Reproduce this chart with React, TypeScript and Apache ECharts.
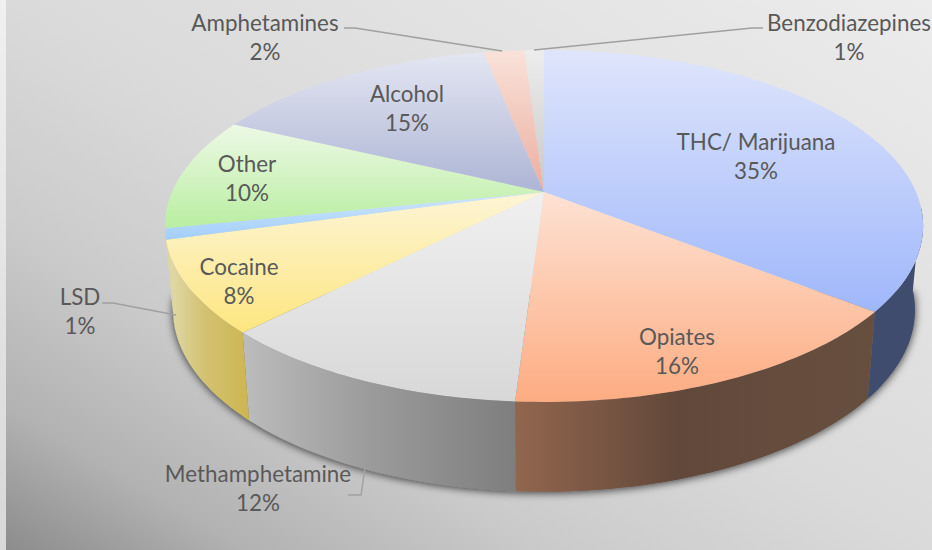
import React, { useEffect, useRef } from "react";
import * as echarts from "echarts";

const categories = ["THC/ Marijuana", "Opiates", "Methamphetamine", "Cocaine", "LSD", "Other", "Alcohol", "Amphetamines", "Benzodiazepines"];
const values = [35.7, 15.3, 11.3, 8.4, 1.0, 10.4, 14.8, 2.1, 1.0];
const percentLabels = ["35%", "16%", "12%", "8%", "1%", "10%", "15%", "2%", "1%"];
const topFrom = ["#dfe5fb", "#fde2d4", "#f0f0f0", "#fdf5d6", "#cfe7fc", "#edf9e6", "#e4e6f2", "#f9e2da", "#ededed"];
const topTo = ["#9fb7fb", "#fdac82", "#d8d8d8", "#fde680", "#a2cefc", "#b9eea0", "#adb5d5", "#ecae9e", "#c8c8c8"];
const wallFrom = ["#3f4c6d", "#92664e", "#bcbcbc", "#e2dcae", "#dcd5a4", "#dcd5a4", "#888", "#999", "#888"];
const wallMid = ["#3f4c6d", "#62483a", "#9c9c9c", "#d3c273", "#dcd5a4", "#dcd5a4", "#777", "#888", "#777"];
const wallTo = ["#3f4c6d", "#674f40", "#7e7e7e", "#cdb650", "#dcd5a4", "#dcd5a4", "#777", "#888", "#777"];

const LABELS: Record<string, { x: number; y: number; line?: number[][] }> = {
  "THC/ Marijuana": { x: 756, y: 156 },
  Opiates: { x: 677, y: 351 },
  Methamphetamine: { x: 258, y: 488, line: [[365, 468], [361, 495], [348, 495]] },
  Cocaine: { x: 239, y: 281 },
  LSD: { x: 80, y: 311, line: [[102, 303], [113, 303], [176, 315]] },
  Other: { x: 247, y: 178 },
  Alcohol: { x: 407, y: 108 },
  Amphetamines: { x: 265, y: 37, line: [[344, 28], [355, 28], [502, 51]] },
  Benzodiazepines: { x: 849, y: 37, line: [[763, 28], [752, 28], [534, 50]] },
};

// Perspective projection of the pie's unit circle on the page
const CX = 544;
const K = -0.193;
const project = (a: number, lower: boolean): number[] => {
  const x = Math.sin(a);
  const y = -Math.cos(a);
  const d = 1 + K * y;
  return lower
    ? [CX + (364 * x) / d, 275 + (175 * y) / d]
    : [CX + (372 * x) / d, 192 + (169.4 * y) / d];
};
const APEX = [CX, 192];
const WALL_START = (95 * Math.PI) / 180;
const WALL_END = (263 * Math.PI) / 180;

const total = values.reduce((s, v) => s + v, 0);
const angles: number[] = [0];
values.forEach((v, i) => angles.push(angles[i] + (v / total) * Math.PI * 2));

const arc = (a0: number, a1: number, lower: boolean): number[][] => {
  const n = Math.max(2, Math.ceil((a1 - a0) / 0.02));
  const pts: number[][] = [];
  for (let i = 0; i <= n; i++) pts.push(project(a0 + ((a1 - a0) * i) / n, lower));
  return pts;
};

export default function App() {
  const ref = useRef<HTMLDivElement>(null);
  useEffect(() => {
    document.body.style.margin = "0";
    const chart = echarts.init(ref.current!, null, { renderer: "svg" });
    const data = values.map((v, i) => [i, v]);
    const graphic: any[] = [
      {
        type: "rect",
        silent: true,
        z: -11,
        shape: { x: 0, y: 0, width: 6, height: 550 },
        style: {
          fill: new echarts.graphic.LinearGradient(0, 0, 0, 1, [
            { offset: 0, color: "#f0f0f0" },
            { offset: 1, color: "#d8d8d8" },
          ]),
        },
      },
      {
        type: "rect",
        silent: true,
        z: -10,
        shape: { x: 6, y: 0, width: 926, height: 550 },
        style: {
          fill: new echarts.graphic.LinearGradient(0, 1, 1, 0, [
            { offset: 0, color: "#8c8c8c" },
            { offset: 0.13, color: "#b2b2b2" },
            { offset: 0.3, color: "#cbcbcb" },
            { offset: 0.5, color: "#dadada" },
            { offset: 0.75, color: "#e3e3e3" },
            { offset: 1, color: "#ececec" },
          ]),
        },
      },
    ];
    categories.forEach((name, i) => {
      const l = LABELS[name];
      if (l.line) {
        graphic.push({
          type: "polyline",
          silent: true,
          z: 90,
          shape: { points: l.line },
          style: { stroke: "#a0a0a0", lineWidth: 1.4, fill: "none" },
        });
      }
      graphic.push({
        type: "text",
        silent: true,
        z: 100,
        style: {
          text: `${name}\n${percentLabels[i]}`,
          x: l.x,
          y: l.y,
          align: "center",
          verticalAlign: "middle",
          lineHeight: 29.5,
          fontFamily: "Lato",
          fontSize: 22.4,
          fill: "#595959",
        },
      });
    });

    chart.setOption({
      animation: false,
      graphic,
      series: [
        {
          type: "custom",
          coordinateSystem: "none",
          silent: true,
          z: 1,
          data: [[0]],
          renderItem: () => ({
            type: "polygon",
            shape: { points: arc(WALL_START, WALL_END, true) },
            style: { fill: "#777", shadowColor: "rgba(0,0,0,0.75)", shadowBlur: 8, shadowOffsetY: 1 },
          }),
        },
        {
          type: "custom",
          coordinateSystem: "none",
          silent: true,
          z: 2,
          data,
          renderItem: (p: any) => {
            const i = p.dataIndex;
            const a0 = Math.max(angles[i], WALL_START);
            const a1 = Math.min(angles[i + 1], WALL_END);
            if (a1 <= a0) return null;
            const up = arc(a0, a1, false);
            const low = arc(a0, a1, true).reverse();
            return {
              type: "polygon",
              shape: { points: up.concat(low) },
              style: {
                fill: new echarts.graphic.LinearGradient(0, 0, 1, 0, [
                  { offset: 0, color: wallFrom[i] },
                  { offset: 0.45, color: wallMid[i] },
                  { offset: 1, color: wallTo[i] },
                ]),
              },
            };
          },
        },
        {
          type: "custom",
          coordinateSystem: "none",
          silent: true,
          z: 3,
          data,
          renderItem: (p: any) => {
            const i = p.dataIndex;
            return {
              type: "polygon",
              shape: { points: [APEX, ...arc(angles[i], angles[i + 1], false)] },
              style: {
                fill: new echarts.graphic.LinearGradient(0, 0, 0, 1, [
                  { offset: 0, color: topFrom[i] },
                  { offset: 1, color: topTo[i] },
                ]),
              },
            };
          },
        },
      ],
    });
    return () => chart.dispose();
  }, []);
  return <div ref={ref} style={{ width: 932, height: 550, background: "#f4f4f4" }} />;
}
